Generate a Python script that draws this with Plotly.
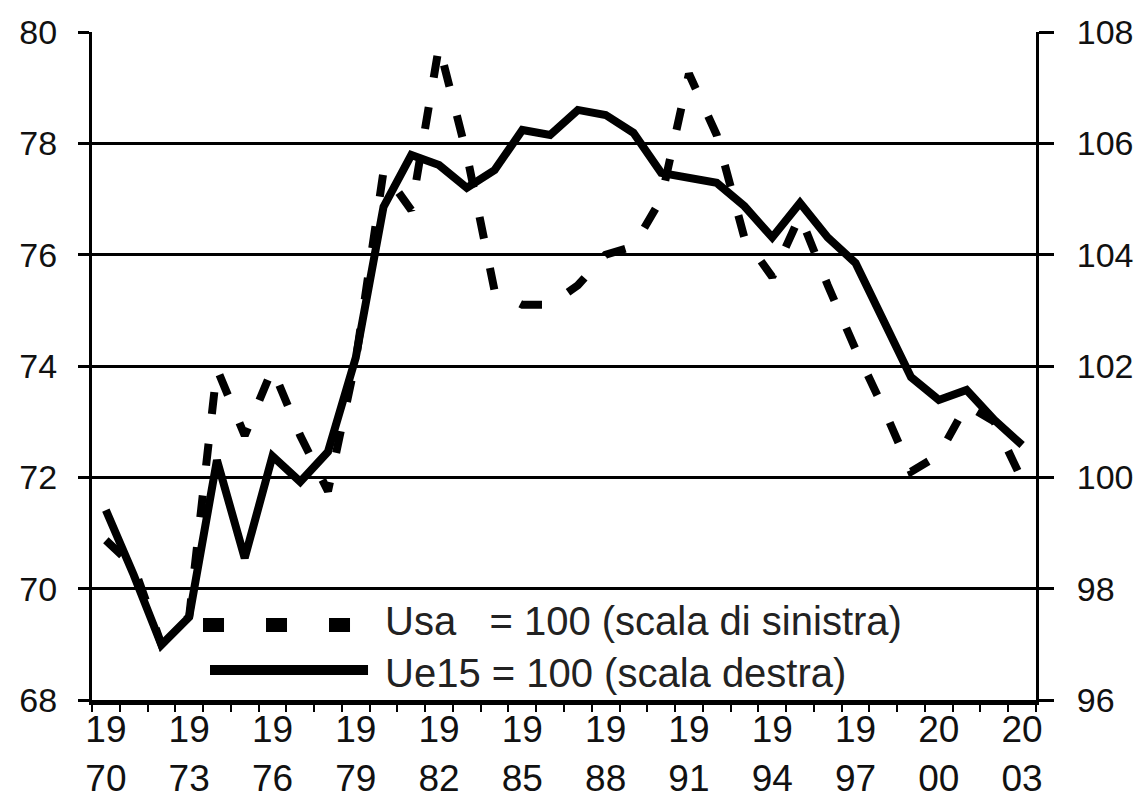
import plotly.graph_objects as go

years = list(range(1970, 2004))

# Usa = 100 (left scale), dashed
usa = [70.87, 70.4, 69.0, 69.5, 73.95, 72.75, 73.95, 72.75, 71.75, 74.1,
       77.5, 76.8, 79.75, 77.8, 75.35, 75.1, 75.1, 75.45, 76.0, 76.15,
       77.0, 79.25, 78.15, 76.3, 75.6, 76.7, 75.45, 74.3, 73.25, 72.1,
       72.4, 73.3, 73.0, 71.95]

# Ue15 = 100 (right scale), solid
ue15 = [99.41, 98.25, 96.99, 97.49, 100.31, 98.55, 100.38, 99.92, 100.46, 102.15,
        104.86, 105.79, 105.61, 105.2, 105.52, 106.24, 106.15, 106.6, 106.51, 106.19,
        105.47, 105.38, 105.29, 104.87, 104.31, 104.93, 104.31, 103.85, 102.83, 101.8,
        101.39, 101.57, 101.03, 100.58]

label_years = list(range(1970, 2004, 3))
tick_text = [f"{str(y)[:2]}<br>{str(y)[2:]}" for y in label_years]
left_ticks = [68, 70, 72, 74, 76, 78, 80]
right_ticks = [96, 98, 100, 102, 104, 106, 108]

legend_usa = "Usa\u00a0\u00a0\u00a0= 100 (scala di sinistra)"
legend_ue = "Ue15 = 100 (scala destra)"

FONT = "Liberation Sans, Arial, sans-serif"

fig = go.Figure()
fig.add_trace(go.Scatter(x=years, y=usa, mode="lines", name=legend_usa,
                         line=dict(color="black", width=8, dash="22px,30px"),
                         yaxis="y", showlegend=False))
fig.add_trace(go.Scatter(x=years, y=ue15, mode="lines", name=legend_ue,
                         line=dict(color="black", width=8),
                         yaxis="y2", showlegend=False))

# manual legend (samples + text)
fig.add_shape(type="line", xref="paper", yref="paper", x0=0.1176, x1=0.2754, y0=0.1123, y1=0.1123,
              line=dict(color="black", width=14, dash="21px,42px"))
fig.add_shape(type="line", xref="paper", yref="paper", x0=0.125, x1=0.2924, y0=0.0449, y1=0.0449,
              line=dict(color="black", width=10))
fig.add_annotation(xref="paper", yref="paper", x=0.3083, y=0.0786,
                   text=legend_usa + "<br>" + legend_ue, showarrow=False, align="left",
                   xanchor="left", yanchor="middle", font=dict(family=FONT, size=40, color="#222"))

# the page places the figure 8px from the top-left corner
fig.update_layout(
    width=1134, height=797,
    margin=dict(l=84, r=106, t=24, b=105, autoexpand=False),
    paper_bgcolor="white", plot_bgcolor="white",
    showlegend=False,
    xaxis=dict(range=[1969.5, 2003.5], tickvals=label_years, ticktext=tick_text,
               ticks="", showgrid=False, zeroline=False, automargin=False,
               showline=True, linecolor="black", linewidth=5,
               ticklabelstandoff=-7,
               tickfont=dict(family=FONT, size=37, color="#111"),
               minor=dict(tickvals=[y - 0.5 for y in years] + [2003.5], ticks="outside",
                          ticklen=7, tickwidth=2, tickcolor="black", showgrid=False)),
    yaxis=dict(range=[68, 80], tickvals=left_ticks, ticks="outside", ticklen=11, tickwidth=3,
               tickcolor="black", showline=True, linecolor="black", linewidth=3, automargin=False,
               showgrid=True, gridcolor="black", gridwidth=3, zeroline=False,
               ticklabelstandoff=14,
               tickfont=dict(family=FONT, size=34, color="#111")),
    yaxis2=dict(range=[96, 108], tickvals=right_ticks, overlaying="y", side="right",
                ticks="outside", ticklen=15, tickwidth=3, tickcolor="black", automargin=False,
                showline=True, linecolor="black", linewidth=3, showgrid=False, zeroline=False,
                ticklabelstandoff=16,
                tickfont=dict(family=FONT, size=34, color="#111")),
)

fig.write_html("out.html")
